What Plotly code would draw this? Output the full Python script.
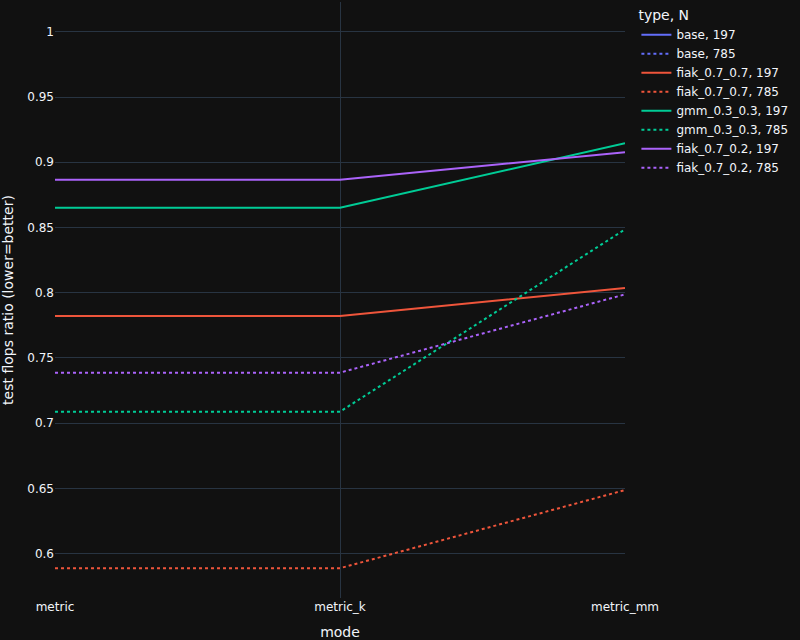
import plotly.graph_objects as go

modes = ["metric", "metric_k", "metric_mm"]
types = ["base", "fiak_0.7_0.7", "gmm_0.3_0.3", "fiak_0.7_0.2"]
sizes = ["197", "785"]
colors = ["#636efa", "#EF553B", "#00cc96", "#ab63fa"]

# base only has a single mode point (nothing drawn in lines mode)
base_197 = [1.0]
base_785 = [1.0]
fiak77_197 = [0.7822, 0.7822, 0.8036]
fiak77_785 = [0.5888, 0.5888, 0.6487]
gmm33_197 = [0.8651, 0.8651, 0.9146]
gmm33_785 = [0.7088, 0.7088, 0.8485]
fiak72_197 = [0.8865, 0.8865, 0.9077]
fiak72_785 = [0.7387, 0.7387, 0.7987]

series = {
    ("base", "197"): base_197,
    ("base", "785"): base_785,
    ("fiak_0.7_0.7", "197"): fiak77_197,
    ("fiak_0.7_0.7", "785"): fiak77_785,
    ("gmm_0.3_0.3", "197"): gmm33_197,
    ("gmm_0.3_0.3", "785"): gmm33_785,
    ("fiak_0.7_0.2", "197"): fiak72_197,
    ("fiak_0.7_0.2", "785"): fiak72_785,
}

fig = go.Figure()
for t, c in zip(types, colors):
    for n in sizes:
        vals = series[(t, n)]
        fig.add_trace(go.Scatter(
            x=modes[:len(vals)], y=vals, mode="lines",
            name=f"{t}, {n}",
            line=dict(color=c, width=2, dash="solid" if n == "197" else "dot"),
        ))

fig.update_layout(
    template="plotly_dark",
    width=800, height=640,
    font=dict(family="DejaVu Sans"),
    margin=dict(l=55, r=175, t=2, b=42),
    legend=dict(title=dict(text="type, N"), tracegroupgap=0),
    xaxis=dict(title=dict(text="mode"), type="category", automargin=False,
               categoryorder="array", categoryarray=modes),
    yaxis=dict(title=dict(text="test flops ratio (lower=better)"), automargin=False),
)
fig.write_html("out.html", config={"displayModeBar": False},
               post_script="document.body.style.margin='0';document.body.style.background='#111111';")
